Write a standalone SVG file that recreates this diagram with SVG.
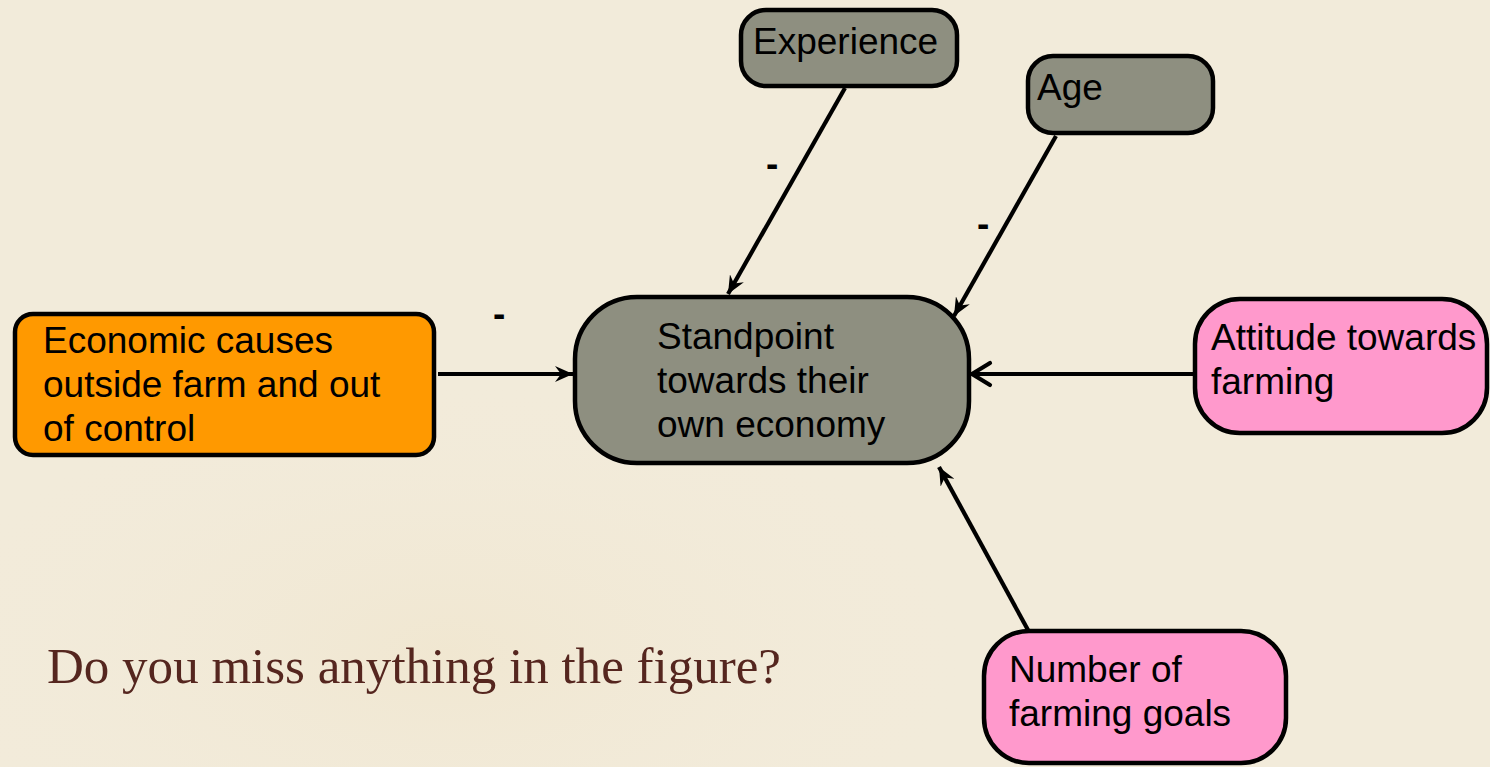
<svg xmlns="http://www.w3.org/2000/svg" width="1490" height="767" viewBox="0 0 1490 767">
  <defs>
    <style>
      .node { stroke: #000; stroke-width: 4.5; }
      .gray { fill: #8e8f80; }
      .orange { fill: #ff9900; }
      .pink { fill: #ff99cc; }
      .lbl { font-family: "Liberation Sans", Arial, sans-serif; font-size: 37px; fill: #000; }
      .dash { font-family: "Liberation Sans", Arial, sans-serif; font-size: 37px; font-weight: bold; fill: #000; }
      .conn { stroke: #000; stroke-width: 4.2; fill: none; }
      .note { font-family: "Liberation Serif", "Times New Roman", serif; font-size: 50px; fill: #55261f; }
    </style>
    <marker id="stealth" markerUnits="userSpaceOnUse" markerWidth="20" markerHeight="16" refX="18" refY="8" orient="auto">
      <path d="M0,0 L18,8 L0,16 L6,8 Z" fill="#000"/>
    </marker>
    <marker id="openv" markerUnits="userSpaceOnUse" markerWidth="28" markerHeight="30" refX="23" refY="15" orient="auto">
      <path d="M4,4 L22,15 L4,26" fill="none" stroke="#000" stroke-width="4.2" stroke-linecap="round" stroke-linejoin="round"/>
    </marker>
    <radialGradient id="bg1" cx="0.3" cy="0.85" r="0.35">
      <stop offset="0" stop-color="#efe3c8" stop-opacity="0.5"/>
      <stop offset="1" stop-color="#f2ead9" stop-opacity="0"/>
    </radialGradient>
  </defs>

  <rect x="0" y="0" width="1490" height="767" fill="#f2ebda"/>
  <rect x="0" y="0" width="1490" height="767" fill="url(#bg1)"/>

  <g id="connectors">
    <line class="conn" x1="845" y1="88" x2="728" y2="294" marker-end="url(#stealth)"/>
    <line class="conn" x1="1056" y1="136" x2="954" y2="316" marker-end="url(#stealth)"/>
    <line class="conn" x1="438" y1="374" x2="573" y2="374" marker-end="url(#stealth)"/>
    <line class="conn" x1="1195" y1="374" x2="971" y2="374" marker-end="url(#openv)"/>
    <line class="conn" x1="1028" y1="630" x2="939" y2="467" marker-end="url(#stealth)"/>
    <text class="dash" x="766" y="176">-</text>
    <text class="dash" x="977" y="236">-</text>
    <text class="dash" x="493" y="326">-</text>
  </g>

  <g id="node-experience">
    <rect class="node gray" x="741" y="10" width="216" height="76" rx="25"/>
    <text class="lbl" x="753" y="54">Experience</text>
  </g>

  <g id="node-age">
    <rect class="node gray" x="1028" y="56" width="185" height="77" rx="25"/>
    <text class="lbl" x="1037" y="100">Age</text>
  </g>

  <g id="node-standpoint">
    <rect class="node gray" x="575" y="297" width="394" height="166" rx="62"/>
    <text class="lbl" x="657" y="349">Standpoint</text>
    <text class="lbl" x="657" y="393">towards their</text>
    <text class="lbl" x="657" y="437">own economy</text>
  </g>

  <g id="node-economic">
    <rect class="node orange" x="15" y="314" width="419" height="141" rx="18"/>
    <text class="lbl" x="43" y="353">Economic causes</text>
    <text class="lbl" x="43" y="397">outside farm and out</text>
    <text class="lbl" x="43" y="441">of control</text>
  </g>

  <g id="node-attitude">
    <rect class="node pink" x="1195" y="299" width="292" height="134" rx="45"/>
    <text class="lbl" x="1211" y="350">Attitude towards</text>
    <text class="lbl" x="1211" y="394">farming</text>
  </g>

  <g id="node-goals">
    <rect class="node pink" x="984" y="631" width="302" height="132" rx="45"/>
    <text class="lbl" x="1009" y="682">Number of</text>
    <text class="lbl" x="1009" y="726">farming goals</text>
  </g>

  <text class="note" x="47" y="683" textLength="734" lengthAdjust="spacingAndGlyphs">Do you miss anything in the figure?</text>
</svg>
